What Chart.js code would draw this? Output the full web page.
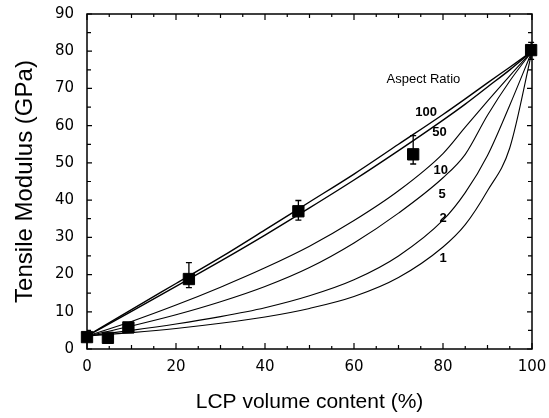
<!DOCTYPE html>
<html>
<head>
<meta charset="utf-8">
<script src="https://cdn.jsdelivr.net/npm/chart.js@4"></script>
<style>
html, body { margin: 0; padding: 0; background: #fff; }
</style>
</head>
<body>
<canvas id="chart" width="549" height="418"></canvas>
<script>
// volume content (%) where the model curves were read
const xs = [0, 10, 20, 30, 40, 50, 60, 70, 80, 85, 90, 95, 100];
// tensile modulus (GPa) per aspect ratio
const ar100 = [3.5, 10.6, 17.6, 24.6, 32.0, 39.5, 47.0, 55.0, 63.0, 67.2, 71.5, 75.7, 80];
const ar50  = [3.5, 10.1, 16.8, 23.6, 30.6, 37.9, 45.4, 53.3, 61.5, 65.8, 70.4, 75.0, 80];
const ar10  = [3.5, 7.4, 11.8, 16.6, 21.8, 27.6, 34.5, 42.5, 52.5, 59.6, 66.6, 73.4, 80];
const ar5   = [3.5, 6.2, 9.2, 12.7, 16.8, 21.9, 28.5, 36.5, 46.0, 52.3, 62.8, 72.0, 80];
const ar2   = [3.5, 5.0, 6.7, 8.7, 11.1, 14.3, 18.6, 25.0, 34.6, 42.0, 52.0, 65.5, 80];
const ar1   = [3.5, 4.4, 5.5, 6.9, 8.6, 10.9, 14.1, 19.2, 27.4, 33.4, 42.5, 54.0, 80];
const curveNames = ["100", "50", "10", "5", "2", "1"];

// measured points
const expX = [0, 4.7, 9.3, 22.9, 47.5, 73.3, 99.8];
const expY = [3.2, 3.0, 5.8, 18.8, 37.0, 52.3, 80.3];
const errLow  = [null, null, null, 16.5, 34.6, 49.7, 77.8];
const errHigh = [null, null, null, 23.2, 39.9, 57.3, 82.4];

const curves = [ar100, ar50, ar10, ar5, ar2, ar1];

function pts(xv, yv) { return xv.map((x, i) => ({x: x, y: yv[i]})); }

let datasets = curves.map((c, i) => ({
    type: "line",
    label: curveNames[i],
    data: pts(xs, c),
    borderColor: "#000",
    borderWidth: i < 2 ? 1.4 : 1.1,
    pointRadius: 0,
    cubicInterpolationMode: "monotone",
    fill: false,
    order: 2
}));
datasets.push({
    type: "scatter",
    label: "measured",
    data: pts(expX, expY),
    pointStyle: "rect",
    pointRadius: 8,
    backgroundColor: "#000",
    borderColor: "#000",
    clip: false,
    order: 0
});

// curve labels, placed in data units
const notes = [
    {t: "Aspect Ratio", x: 75.6, y: 72.3, bold: false},
    {t: "100", x: 76.2, y: 63.6, bold: true},
    {t: "50", x: 79.2, y: 58.2, bold: true},
    {t: "10", x: 79.5, y: 47.9, bold: true},
    {t: "5", x: 79.8, y: 41.4, bold: true},
    {t: "2", x: 80.0, y: 35.1, bold: true},
    {t: "1", x: 80.0, y: 24.4, bold: true}
];

const framePlugin = {
    id: "frame",
    afterDatasetsDraw(chart) {
        const ctx = chart.ctx;
        const a = chart.chartArea;
        const xs_ = chart.scales.x, ys_ = chart.scales.y;
        ctx.save();
        ctx.strokeStyle = "#000";
        // box
        ctx.lineWidth = 1.5;
        ctx.strokeRect(a.left, a.top, a.right - a.left, a.bottom - a.top);
        // inward ticks
        ctx.lineWidth = 1.2;
        ctx.beginPath();
        for (let v = 0; v <= 100; v += 5) {
            const px = xs_.getPixelForValue(v);
            const len = v % 20 === 0 ? 6 : (v % 10 === 0 ? 4 : 3);
            ctx.moveTo(px, a.bottom); ctx.lineTo(px, a.bottom - len);
            ctx.moveTo(px, a.top); ctx.lineTo(px, a.top + len);
        }
        for (let v = 0; v <= 90; v += 5) {
            const py = ys_.getPixelForValue(v);
            const len = v % 10 === 0 ? 5 : 4;
            ctx.moveTo(a.left, py); ctx.lineTo(a.left + len, py);
            ctx.moveTo(a.right, py); ctx.lineTo(a.right - len, py);
        }
        ctx.stroke();
        // error bars
        ctx.lineWidth = 1.3;
        ctx.beginPath();
        expX.forEach((x, i) => {
            if (errLow[i] === null) return;
            const px = xs_.getPixelForValue(x);
            const lo = ys_.getPixelForValue(errLow[i]);
            const hi = ys_.getPixelForValue(errHigh[i]);
            ctx.moveTo(px, lo); ctx.lineTo(px, hi);
            ctx.moveTo(px - 3, lo); ctx.lineTo(px + 3, lo);
            ctx.moveTo(px - 3, hi); ctx.lineTo(px + 3, hi);
        });
        ctx.stroke();
        // labels
        ctx.fillStyle = "#000";
        ctx.textAlign = "center";
        ctx.textBaseline = "middle";
        notes.forEach(n => {
            ctx.font = (n.bold ? "bold " : "") + "13px 'Liberation Sans', Arial, sans-serif";
            ctx.fillText(n.t, xs_.getPixelForValue(n.x), ys_.getPixelForValue(n.y));
        });
        ctx.restore();
    }
};

new Chart(document.getElementById("chart"), {
    data: { datasets: datasets },
    options: {
        responsive: false,
        animation: false,
        events: [],
        layout: { padding: { left: 0, right: 17, top: 14, bottom: 0 } },
        plugins: { legend: { display: false }, tooltip: { enabled: false } },
        scales: {
            x: {
                type: "linear",
                min: 0, max: 100,
                grid: { display: false, drawTicks: false, tickLength: 0 },
                border: { display: false },
                ticks: {
                    stepSize: 20,
                    color: "#000",
                    padding: 9,
                    maxRotation: 0,
                    font: { family: "'DejaVu Sans', sans-serif", size: 15 }
                },
                title: {
                    display: true,
                    text: "LCP volume content (%)",
                    color: "#000",
                    padding: { top: 0, bottom: 3 },
                    font: { family: "'Liberation Sans', Arial, sans-serif", size: 21 }
                },
                afterFit(s) { s.height = 69; s.paddingLeft = 0; s.paddingRight = 0; }
            },
            y: {
                type: "linear",
                min: 0, max: 90,
                grid: { display: false, drawTicks: false, tickLength: 0 },
                border: { display: false },
                ticks: {
                    stepSize: 10,
                    color: "#000",
                    padding: 13,
                    font: { family: "'DejaVu Sans', sans-serif", size: 15 }
                },
                title: {
                    display: true,
                    text: "Tensile Modulus (GPa)",
                    color: "#000",
                    padding: { top: 11, bottom: 0 },
                    font: { family: "'Liberation Sans', Arial, sans-serif", size: 24 }
                },
                afterFit(s) { s.width = 87; s.paddingTop = 0; s.paddingBottom = 0; }
            }
        }
    },
    plugins: [framePlugin]
});
</script>
</body>
</html>
